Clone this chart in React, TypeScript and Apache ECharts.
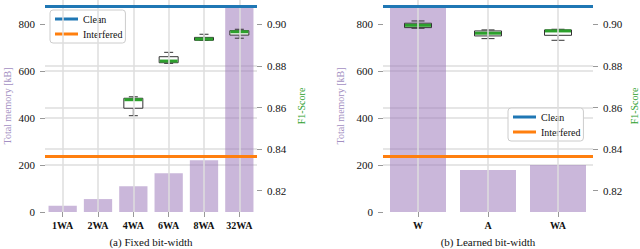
import React, { useEffect, useRef } from "react";
import * as echarts from "echarts";

const fixedCategories = ["1WA", "2WA", "4WA", "6WA", "8WA", "32WA"];
const fixedMemory = [27, 55, 110, 165, 220, 875];
// [categoryIndex, low, q1, median, q3, high]
const fixedF1Boxes = [
  [2, 0.8561, 0.8597, 0.8638, 0.8645, 0.8652],
  [3, 0.8813, 0.8816, 0.8824, 0.8845, 0.8866],
  [4, 0.8923, 0.8924, 0.893, 0.8938, 0.8953],
  [5, 0.8934, 0.8949, 0.8965, 0.897, 0.8977],
];

const learnedCategories = ["W", "A", "WA"];
const learnedMemory = [875, 179, 200];
const learnedF1Boxes = [
  [0, 0.8982, 0.8985, 0.8996, 0.9006, 0.9017],
  [1, 0.8932, 0.8945, 0.8958, 0.8969, 0.8974],
  [2, 0.8924, 0.8948, 0.8969, 0.8974, 0.8977],
];

const cleanF1 = 0.9089;
const interferedF1 = 0.8368;

const memTicks = [0, 200, 400, 600, 800];
const f1Ticks = [0.82, 0.84, 0.86, 0.88, 0.9];
const memMax = 902;
const f1Min = 0.80975;
const f1Max = 0.91179;

const FONT = "'Liberation Serif', 'DejaVu Serif', 'Times New Roman', serif";
const GRID_COLOR = "#dedede";
const PURPLE_TEXT = "#a38fc2";
const GREEN = "#2ca02c";
const BLUE = "#1f77b4";
const ORANGE = "#ff7f0e";
const BAR_COLOR = "rgba(150,112,182,0.5)";

function makeBoxRender(boxW: number, capW: number) {
  return (params: any, api: any) => {
    const x = api.value(0);
    const pLow = api.coord([x, api.value(1)]);
    const cx = pLow[0];
    const yLow = pLow[1];
    const yQ1 = api.coord([x, api.value(2)])[1];
    const yMed = api.coord([x, api.value(3)])[1];
    const yQ3 = api.coord([x, api.value(4)])[1];
    const yHigh = api.coord([x, api.value(5)])[1];
    const st = { stroke: "#333", lineWidth: 1 };
    return {
      type: "group",
      children: [
        { type: "line", shape: { x1: cx, y1: yLow, x2: cx, y2: yQ1 }, style: st },
        { type: "line", shape: { x1: cx, y1: yQ3, x2: cx, y2: yHigh }, style: st },
        { type: "line", shape: { x1: cx - capW / 2, y1: yLow, x2: cx + capW / 2, y2: yLow }, style: st },
        { type: "line", shape: { x1: cx - capW / 2, y1: yHigh, x2: cx + capW / 2, y2: yHigh }, style: st },
        {
          type: "rect",
          shape: { x: cx - boxW / 2, y: yQ3, width: boxW, height: yQ1 - yQ3 },
          style: { fill: "#fff", stroke: "#333", lineWidth: 1 },
        },
        {
          type: "line",
          shape: { x1: cx - boxW / 2 + 0.5, y1: yMed, x2: cx + boxW / 2 - 0.5, y2: yMed },
          style: { stroke: GREEN, lineWidth: 3 },
        },
      ],
    };
  };
}

function memAxis(gridIndex: number, nameGap: number) {
  return {
    type: "value",
    gridIndex,
    min: 0,
    max: memMax,
    position: "left",
    name: "Total memory [kB]",
    nameLocation: "middle",
    nameGap,
    nameTextStyle: { color: PURPLE_TEXT, fontFamily: FONT, fontSize: 10 },
    axisLine: { show: false },
    axisTick: { show: true, length: 5, lineStyle: { color: "#999" }, customValues: memTicks },
    axisLabel: { customValues: memTicks, margin: 10, color: "#111", fontFamily: FONT, fontSize: 11 },
    splitLine: { show: true, showMinLine: false, showMaxLine: false, lineStyle: { color: GRID_COLOR, width: 1.5 } },
  };
}

function f1Axis(gridIndex: number, nameGap: number) {
  return {
    type: "value",
    gridIndex,
    min: f1Min,
    max: f1Max,
    position: "right",
    name: "F1-Score",
    nameLocation: "middle",
    nameGap,
    nameTextStyle: { color: GREEN, fontFamily: FONT, fontSize: 10 },
    axisLine: { show: false },
    axisTick: { show: true, length: 5, lineStyle: { color: "#999" }, customValues: f1Ticks },
    axisLabel: {
      customValues: f1Ticks,
      margin: 10,
      color: "#111",
      fontFamily: FONT,
      fontSize: 11,
      formatter: (v: number) => v.toFixed(2),
    },
    splitLine: { show: true, showMinLine: false, showMaxLine: false, lineStyle: { color: GRID_COLOR, width: 1.5 } },
  };
}

function catAxis(gridIndex: number, data: string[]) {
  return {
    type: "category",
    gridIndex,
    data,
    axisLine: { show: false },
    axisTick: { show: true, alignWithLabel: true, length: 5, lineStyle: { color: "#999" } },
    axisLabel: { margin: 8, color: "#111", fontFamily: FONT, fontSize: 10, fontWeight: "bold" },
    splitLine: { show: false },
  };
}

function refLine(name: string, color: string, value: number, xi: number, yi: number) {
  return {
    type: "line",
    name,
    color,
    xAxisIndex: xi,
    yAxisIndex: yi,
    data: [],
    lineStyle: { color, width: 3 },
    z: 5,
    markLine: {
      silent: true,
      precision: 6,
      symbol: ["none", "none"],
      label: { show: false },
      lineStyle: { color, width: 3, type: "solid" },
      emphasis: { disabled: true },
      data: [{ yAxis: value }],
    },
  };
}

function legend(left: number, top: number) {
  return {
    left,
    top,
    orient: "vertical",
    data: ["Clean", "Interfered"],
    selectedMode: false,
    icon: "rect",
    itemWidth: 23,
    itemHeight: 3,
    itemGap: 3,
    padding: [3, 3, 3, 5],
    backgroundColor: "#fff",
    borderColor: "#ccc",
    borderWidth: 1,
    borderRadius: 3,
    textStyle: { fontFamily: FONT, fontSize: 10, color: "#111", lineHeight: 12 },
  };
}

export default function App() {
  const ref = useRef<HTMLDivElement>(null);
  useEffect(() => {
    if (!ref.current) return;
    const chart = echarts.init(ref.current, undefined, { renderer: "svg" });
    const option: any = {
      animation: false,
      backgroundColor: "#fff",
      textStyle: { fontFamily: FONT },
      grid: [
        { left: 45, top: 0, width: 212, height: 212 },
        { left: 383, top: 0, width: 211, height: 212 },
      ],
      xAxis: [catAxis(0, fixedCategories), catAxis(1, learnedCategories)],
      yAxis: [memAxis(0, 33), f1Axis(0, 39), memAxis(1, 38), f1Axis(1, 36)],
      legend: [legend(50, 10), legend(508, 108)],
      series: [
        {
          type: "bar",
          name: "memA",
          xAxisIndex: 0,
          yAxisIndex: 0,
          data: fixedMemory,
          barWidth: "80%",
          itemStyle: { color: BAR_COLOR },
          silent: true,
          z: 1,
          markLine: {
            silent: true,
            symbol: ["none", "none"],
            label: { show: false },
            lineStyle: { color: GRID_COLOR, width: 1.5, type: "solid" },
            emphasis: { disabled: true },
            data: fixedCategories.map((c) => ({ xAxis: c })),
          },
        },
        {
          type: "bar",
          name: "memB",
          xAxisIndex: 1,
          yAxisIndex: 2,
          data: learnedMemory,
          barWidth: "80%",
          itemStyle: { color: BAR_COLOR },
          silent: true,
          z: 1,
          markLine: {
            silent: true,
            symbol: ["none", "none"],
            label: { show: false },
            lineStyle: { color: GRID_COLOR, width: 1.5, type: "solid" },
            emphasis: { disabled: true },
            data: learnedCategories.map((c) => ({ xAxis: c })),
          },
        },
        {
          type: "custom",
          name: "boxA",
          xAxisIndex: 0,
          yAxisIndex: 1,
          data: fixedF1Boxes,
          renderItem: makeBoxRender(19, 9),
          silent: true,
          z: 4,
        },
        {
          type: "custom",
          name: "boxB",
          xAxisIndex: 1,
          yAxisIndex: 3,
          data: learnedF1Boxes,
          renderItem: makeBoxRender(27, 13),
          silent: true,
          z: 4,
        },
        refLine("Clean", BLUE, cleanF1, 0, 1),
        refLine("Interfered", ORANGE, interferedF1, 0, 1),
        refLine("Clean", BLUE, cleanF1, 1, 3),
        refLine("Interfered", ORANGE, interferedF1, 1, 3),
      ],
      graphic: [
        {
          type: "text",
          x: 151,
          y: 242,
          style: {
            text: "(a) Fixed bit-width",
            fontFamily: FONT,
            fontSize: 11,
            fill: "#111",
            textAlign: "center",
            textVerticalAlign: "middle",
          },
        },
        {
          type: "text",
          x: 488,
          y: 242,
          style: {
            text: "(b) Learned bit-width",
            fontFamily: FONT,
            fontSize: 11,
            fill: "#111",
            textAlign: "center",
            textVerticalAlign: "middle",
          },
        },
      ],
    };
    chart.setOption(option);
    return () => chart.dispose();
  }, []);
  return (
    <div
      ref={ref}
      style={{ position: "fixed", left: 0, top: 0, width: 640, height: 249 }}
    />
  );
}
